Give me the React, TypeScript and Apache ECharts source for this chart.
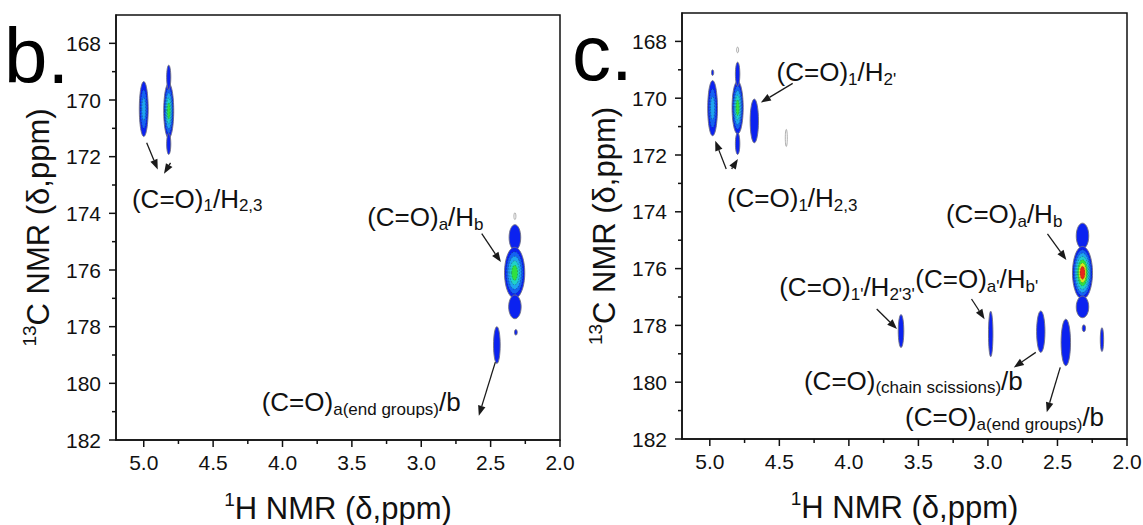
import React, { useEffect, useRef } from 'react';
import * as echarts from 'echarts';

// ---------- Panel b: cross peaks (1H ppm, 13C ppm, half-widths, contour levels)
const bPeakH = [5.0, 4.82, 4.82, 4.82, 2.325, 2.327, 2.325, 2.455, 2.318, 2.325];
const bPeakC = [170.32, 170.38, 169.2, 171.55, 174.85, 176.1, 177.3, 178.65, 178.2, 174.1];
const bPeakWH = [0.032, 0.036, 0.015, 0.015, 0.042, 0.073, 0.045, 0.024, 0.01, 0.006];
const bPeakWC = [0.97, 0.97, 0.43, 0.37, 0.45, 0.9, 0.42, 0.65, 0.1, 0.12];
const bPeakLevel = [3, 5, 1, 1, 1, 5, 1, 1, 1, 0];

// ---------- Panel c: cross peaks
const cPeakH = [4.98, 4.98, 4.8, 4.8, 4.8, 4.8, 4.68, 4.45, 2.32, 2.32, 2.32, 2.31, 3.625, 2.98, 2.62, 2.44, 2.18];
const cPeakC = [170.35, 169.1, 170.33, 169.15, 171.6, 168.3, 170.8, 171.4, 174.85, 176.15, 177.35, 178.1, 178.2, 178.3, 178.22, 178.6, 178.5];
const cPeakWH = [0.035, 0.008, 0.04, 0.016, 0.016, 0.006, 0.03, 0.007, 0.045, 0.072, 0.045, 0.012, 0.02, 0.016, 0.03, 0.034, 0.012];
const cPeakWC = [0.97, 0.1, 0.93, 0.42, 0.38, 0.1, 0.77, 0.3, 0.45, 0.93, 0.38, 0.12, 0.58, 0.8, 0.73, 0.82, 0.42];
const cPeakLevel = [3, 1, 5, 1, 1, 0, 1, 0, 1, 7, 1, 1, 1, 1, 1, 1, 1];

// ---------- Annotations (rich text markup)
const bLabelText = ['(C=O){s|1}/H{s|2,3}', '(C=O){s|a}/H{s|b}', '(C=O){s|a(end groups)}/b'];
const bLabelH = [5.085, 3.39, 4.15];
const bLabelC = [173.48, 174.13, 180.67];
const bArrows = [
  [4.979, 171.51, 4.899, 172.45],
  [4.807, 172.22, 4.854, 172.6],
  [2.564, 174.72, 2.426, 175.72],
  [2.466, 179.25, 2.585, 181.14],
];

const cLabelText = [
  "(C=O){s|1}/H{s|2'}",
  '(C=O){s|1}/H{s|2,3}',
  '(C=O){s|a}/H{s|b}',
  "(C=O){s|1'}/H{s|2'3'}",
  "(C=O){s|a'}/H{s|b'}",
  '(C=O){s|(chain scissions)}/b',
  '(C=O){s|a(end groups)}/b',
];
const cLabelH = [4.52, 4.877, 3.302, 4.501, 3.522, 4.323, 3.596];
const cLabelC = [169.09, 173.52, 174.08, 176.66, 176.37, 179.95, 181.24];
const cArrows = [
  [4.404, 169.48, 4.633, 170.15],
  [4.882, 172.49, 4.961, 171.5],
  [4.843, 172.49, 4.798, 172.14],
  [2.572, 174.78, 2.436, 175.7],
  [3.8, 177.42, 3.654, 178.13],
  [3.118, 177.07, 3.024, 177.78],
  [2.656, 178.95, 2.814, 179.48],
  [2.48, 179.48, 2.577, 181.06],
];

// ---------- Axis ticks
const xMin = 2.0;
const xMax = 5.2;
const xStep = 0.5;
const yMin = 167;
const yMax = 182;
const yStep = 2;
const xMajorTicks = [2.0, 2.5, 3.0, 3.5, 4.0, 4.5, 5.0];
const xMinorTicks = [2.25, 2.75, 3.25, 3.75, 4.25, 4.75];
const yMajorTicks = [168, 170, 172, 174, 176, 178, 180, 182];
const yMinorTicks = [169, 171, 173, 175, 177, 179, 181];

const FONT = '"Liberation Sans", Arial, Helvetica, sans-serif';
const INK = '#111111';
const LEVEL_COLORS = ['#0b22f0', '#1462f2', '#1fa6ee', '#20d2c8', '#30e040', '#d6e820', '#e8261a'];

const RICH = {
  s: { fontSize: 17, lineHeight: 17, verticalAlign: 'bottom', fontFamily: FONT, fill: INK, color: INK },
};

function peakRender(params: any, api: any) {
  const h = api.value(0);
  const c = api.value(1);
  const wh = api.value(2);
  const wc = api.value(3);
  const lvl = api.value(4);
  const ctr = api.coord([h, c]);
  const sz = api.size([wh, wc]);
  const rx = Math.abs(sz[0]);
  const ry = Math.abs(sz[1]);
  const children: any[] = [];
  if (lvl === 0) {
    children.push({
      type: 'ellipse',
      shape: { cx: ctr[0], cy: ctr[1], rx: Math.max(rx, 1), ry },
      style: { fill: '#ffffff', stroke: '#9a9a9a', lineWidth: 0.8 },
    });
  } else {
    for (let k = 0; k < lvl; k++) {
      const s = 1 - (0.88 * k) / lvl;
      children.push({
        type: 'ellipse',
        shape: { cx: ctr[0], cy: ctr[1], rx: rx * s, ry: ry * s },
        style: {
          fill: LEVEL_COLORS[k],
          stroke: k === 0 ? '#707080' : 'rgba(20,20,40,0.5)',
          lineWidth: k === 0 ? 0.9 : 0.6,
          lineDash: k === 0 ? null : [1.5, 1.5],
        },
      });
    }
  }
  return { type: 'group', children };
}

function arrowRender(params: any, api: any) {
  const p1 = api.coord([api.value(0), api.value(1)]);
  const p2 = api.coord([api.value(2), api.value(3)]);
  const dx = p2[0] - p1[0];
  const dy = p2[1] - p1[1];
  const len = Math.hypot(dx, dy) || 1;
  const ux = dx / len;
  const uy = dy / len;
  const hl = 10;
  const hw = 3.8;
  const bx = p2[0] - ux * hl;
  const by = p2[1] - uy * hl;
  return {
    type: 'group',
    children: [
      { type: 'line', shape: { x1: p1[0], y1: p1[1], x2: bx, y2: by }, style: { stroke: '#1a1a1a', lineWidth: 1.3 } },
      {
        type: 'polygon',
        shape: { points: [[p2[0], p2[1]], [bx - uy * hw, by + ux * hw], [bx + uy * hw, by - ux * hw]] },
        style: { fill: '#1a1a1a' },
      },
    ],
  };
}

function labelRender(texts: string[]) {
  return (params: any, api: any) => {
    const p = api.coord([api.value(0), api.value(1)]);
    return {
      type: 'text',
      x: p[0],
      y: p[1],
      style: {
        text: texts[params.dataIndex],
        rich: RICH,
        fontSize: 26,
        lineHeight: 31,
        fontFamily: FONT,
        fill: INK,
        align: 'left',
        verticalAlign: 'middle',
      },
    };
  };
}

// tick marks drawn from the tick value lists, through the axes
function xTickRender(len: number) {
  return (params: any, api: any) => {
    const p = api.coord([api.value(0), -yMax]);
    return { type: 'line', shape: { x1: p[0], y1: p[1], x2: p[0], y2: p[1] + len }, style: { stroke: INK, lineWidth: 1.5 } };
  };
}
function yTickRender(len: number) {
  return (params: any, api: any) => {
    const p = api.coord([xMax, api.value(1)]);
    return { type: 'line', shape: { x1: p[0], y1: p[1], x2: p[0] - len, y2: p[1] }, style: { stroke: INK, lineWidth: 1.5 } };
  };
}

const nameStyle = {
  fontSize: 31,
  lineHeight: 36,
  fontFamily: FONT,
  color: INK,
  rich: {
    sup: { fontSize: 19, lineHeight: 19, verticalAlign: 'top', fontFamily: FONT, color: INK },
  },
};

function makeX(gi: number) {
  return {
    type: 'value',
    gridIndex: gi,
    min: xMin,
    max: xMax,
    interval: xStep,
    inverse: true,
    axisLine: { show: true, onZero: false, lineStyle: { color: INK, width: 1.5 } },
    axisTick: { show: false },
    minorTick: { show: false },
    splitLine: { show: false },
    axisLabel: {
      formatter: (v: number) => v.toFixed(1),
      fontSize: 21,
      color: INK,
      fontFamily: FONT,
      margin: 12,
      showMaxLabel: false,
    },
    name: '{sup|1}H NMR (δ,ppm)',
    nameLocation: 'middle',
    nameGap: 50,
    nameTextStyle: nameStyle,
  };
}

function makeY(gi: number) {
  return {
    type: 'value',
    gridIndex: gi,
    min: -yMax,
    max: -yMin,
    interval: yStep,
    axisLine: { show: true, onZero: false, lineStyle: { color: INK, width: 1.5 } },
    axisTick: { show: false },
    minorTick: { show: false },
    splitLine: { show: false },
    axisLabel: {
      formatter: (v: number) => String(-v),
      fontSize: 21,
      color: INK,
      fontFamily: FONT,
      margin: 15,
      showMaxLabel: false,
    },
    name: '{sup|13}C NMR (δ,ppm)',
    nameLocation: 'middle',
    nameGap: 60,
    nameTextStyle: nameStyle,
  };
}

function peakSeries(gi: number, H: number[], C: number[], WH: number[], WC: number[], L: number[]) {
  return {
    type: 'custom',
    xAxisIndex: gi,
    yAxisIndex: gi,
    clip: true,
    renderItem: peakRender,
    data: H.map((h, i) => [h, -C[i], WH[i], WC[i], L[i]]),
    z: 2,
  };
}

function arrowSeries(gi: number, arr: number[][]) {
  return {
    type: 'custom',
    xAxisIndex: gi,
    yAxisIndex: gi,
    clip: false,
    renderItem: arrowRender,
    data: arr.map((a) => [a[0], -a[1], a[2], -a[3]]),
    z: 3,
  };
}

function labelSeries(gi: number, texts: string[], H: number[], C: number[]) {
  return {
    type: 'custom',
    xAxisIndex: gi,
    yAxisIndex: gi,
    clip: false,
    renderItem: labelRender(texts),
    data: H.map((h, i) => [h, -C[i]]),
    z: 4,
  };
}

function tickSeries(gi: number) {
  const base = { type: 'custom', xAxisIndex: gi, yAxisIndex: gi, clip: false, z: 5, silent: true };
  return [
    { ...base, renderItem: xTickRender(7), data: xMajorTicks.map((v) => [v, -yMax]) },
    { ...base, renderItem: xTickRender(4), data: xMinorTicks.map((v) => [v, -yMax]) },
    { ...base, renderItem: yTickRender(7), data: yMajorTicks.map((v) => [xMax, -v]) },
    { ...base, renderItem: yTickRender(4), data: yMinorTicks.map((v) => [xMax, -v]) },
  ];
}

export default function App() {
  const ref = useRef<HTMLDivElement>(null);
  useEffect(() => {
    if (!ref.current) return;
    const chart = echarts.init(ref.current, null, { renderer: 'svg' });
    const option: any = {
      animation: false,
      backgroundColor: '#ffffff',
      grid: [
        { left: 116, top: 15, width: 444, height: 425, show: true, borderColor: INK, borderWidth: 1.5, containLabel: false, outerBoundsMode: 'none' },
        { left: 682, top: 13, width: 445, height: 426, show: true, borderColor: INK, borderWidth: 1.5, containLabel: false, outerBoundsMode: 'none' },
      ],
      xAxis: [makeX(0), makeX(1)],
      yAxis: [makeY(0), makeY(1)],
      graphic: [
        { type: 'text', x: 4, y: 56, style: { text: 'b.', font: `78px ${FONT}`, fill: '#000', align: 'left', verticalAlign: 'middle' } },
        { type: 'text', x: 572, y: 53, style: { text: 'c.', font: `78px ${FONT}`, fill: '#000', align: 'left', verticalAlign: 'middle' } },
      ],
      series: [
        peakSeries(0, bPeakH, bPeakC, bPeakWH, bPeakWC, bPeakLevel),
        peakSeries(1, cPeakH, cPeakC, cPeakWH, cPeakWC, cPeakLevel),
        arrowSeries(0, bArrows),
        arrowSeries(1, cArrows),
        labelSeries(0, bLabelText, bLabelH, bLabelC),
        labelSeries(1, cLabelText, cLabelH, cLabelC),
        ...tickSeries(0),
        ...tickSeries(1),
      ],
    };
    chart.setOption(option);
    return () => chart.dispose();
  }, []);
  return (
    <div
      ref={ref}
      style={{ position: 'absolute', left: 0, top: 0, width: 1143, height: 525, background: '#fff' }}
    />
  );
}
